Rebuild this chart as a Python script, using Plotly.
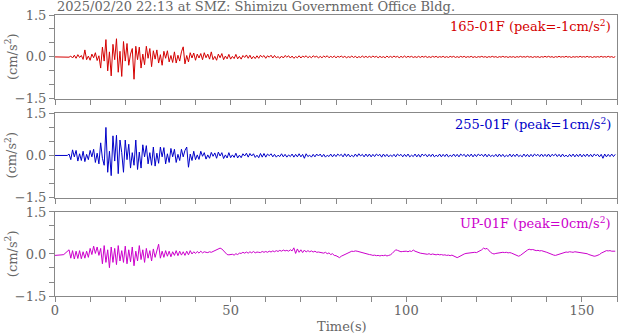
import plotly.graph_objects as go

dt = 0.5
title_text = "2025/02/20 22:13 at SMZ: Shimizu Government Office Bldg."
channel_labels = ["165-01F (peak=-1cm/s<sup>2</sup>)",
                  "255-01F (peak=1cm/s<sup>2</sup>)",
                  "UP-01F (peak=0cm/s<sup>2</sup>)"]
y_ticks = [-1.5, 0.0, 1.5]
x_ticks = [0, 50, 100, 150]

ch165 = [
    0.00,0.00,0.00,0.00,0.00,0.00,0.00,0.01,-0.01,0.03,-0.04,0.06,-0.05,0.08,-0.02,0.05,-0.09,0.25,-0.10,0.03,
    -0.12,0.10,-0.03,0.15,-0.13,0.04,-0.40,0.35,-0.15,0.62,-0.50,0.18,-0.68,0.45,-0.10,0.65,-0.55,0.20,-0.70,0.55,
    -0.15,0.48,-0.30,0.10,0.30,-0.80,0.38,-0.10,0.35,-0.40,0.10,-0.28,0.38,-0.05,0.30,-0.35,0.22,-0.08,0.25,-0.22,
    0.08,-0.30,0.20,-0.05,0.22,-0.18,0.05,-0.20,0.18,-0.22,0.06,-0.15,0.18,0.36,-0.25,0.05,-0.18,0.15,-0.04,0.14,
    -0.12,0.10,-0.04,0.12,-0.10,0.15,-0.03,0.10,-0.08,0.18,-0.10,0.02,-0.12,0.10,-0.03,0.12,-0.10,0.03,-0.07,0.09,
    -0.08,0.02,-0.06,0.09,-0.07,0.02,-0.08,0.05,-0.02,0.07,-0.05,0.06,-0.07,0.02,-0.06,0.04,-0.05,0.06,-0.01,0.05,
    -0.05,0.04,-0.01,0.06,-0.04,0.05,-0.03,0.01,-0.05,0.03,-0.04,0.05,-0.01,0.04,-0.04,0.03,-0.05,0.01,-0.03,0.04,
    -0.04,0.03,-0.01,0.04,-0.03,0.02,-0.03,0.04,-0.01,0.03,-0.04,0.02,-0.03,0.03,-0.01,0.04,-0.03,0.02,-0.02,0.03,
    -0.03,0.02,-0.01,0.03,-0.02,0.02,-0.03,0.01,-0.02,0.03,-0.02,0.02,-0.03,0.01,-0.02,0.03,-0.02,0.02,-0.02,0.02,
    -0.02,0.03,-0.01,0.02,-0.03,0.02,-0.02,0.01,-0.03,0.03,-0.02,0.02,-0.02,0.03,-0.01,0.02,-0.03,0.02,-0.02,0.03,
    -0.02,0.02,-0.01,0.02,-0.02,0.01,-0.02,0.02,-0.02,0.02,-0.01,0.02,-0.02,0.01,-0.02,0.02,-0.01,0.02,-0.02,0.01,
    -0.01,0.02,-0.02,0.01,-0.02,0.02,-0.01,0.02,-0.02,0.01,-0.02,0.02,-0.01,0.02,-0.02,0.01,-0.01,0.02,-0.02,0.01,
    -0.02,0.01,-0.01,0.02,-0.01,0.01,-0.02,0.01,-0.01,0.02,-0.01,0.01,-0.02,0.01,-0.01,0.02,-0.01,0.01,-0.02,0.01,
    -0.01,0.01,-0.02,0.01,-0.01,0.02,-0.01,0.01,-0.01,0.02,-0.01,0.01,-0.02,0.01,-0.01,0.01,-0.02,0.01,-0.01,0.02,
    -0.01,0.02,-0.01,0.01,-0.02,0.01,-0.01,0.02,-0.01,0.01,-0.01,0.02,-0.01,0.01,-0.02,0.01,-0.01,0.01,-0.01,0.02,
    -0.01,0.01,-0.01,0.02,-0.01,0.01,-0.02,0.01,-0.01,0.01,-0.01,0.02,-0.01,0.01,-0.01,0.02,-0.01,0.01,-0.02,0.01,
]

ch255 = [
    0.00,0.00,0.00,0.00,0.00,0.00,0.00,0.00,0.05,-0.15,0.20,-0.05,0.18,-0.20,0.06,-0.18,0.15,-0.22,0.04,-0.15,
    0.18,-0.05,0.22,-0.25,0.08,-0.30,0.45,-0.10,-0.35,1.00,-0.60,0.15,-0.72,0.70,-0.20,0.72,-0.65,0.55,0.10,-0.60,
    0.55,-0.15,0.40,-0.45,0.10,-0.35,0.55,-0.50,0.12,-0.45,0.38,-0.05,0.35,-0.30,0.10,-0.35,0.30,-0.38,0.08,-0.28,
    0.30,-0.05,0.28,-0.30,0.06,-0.25,0.25,-0.05,0.22,-0.25,0.04,-0.18,0.22,-0.05,0.18,0.30,-0.42,0.05,-0.18,0.15,
    -0.15,0.02,-0.14,0.15,-0.03,0.10,-0.13,0.02,-0.10,0.11,-0.03,0.09,-0.10,0.12,-0.02,0.10,-0.11,0.02,-0.09,0.10,
    -0.08,0.02,-0.07,0.08,-0.09,0.01,-0.08,0.06,-0.02,0.08,-0.06,0.07,-0.02,0.06,-0.07,0.01,-0.08,0.07,-0.06,0.07,
    -0.06,0.05,-0.01,0.06,-0.05,0.04,-0.06,0.01,-0.04,0.06,-0.05,0.04,-0.06,0.02,-0.04,0.05,-0.06,0.04,-0.05,0.06,
    -0.05,0.04,-0.10,0.06,-0.04,0.01,-0.06,0.04,-0.05,0.05,-0.02,0.05,-0.05,0.04,-0.06,0.01,-0.04,0.05,-0.05,0.04,
    -0.04,0.05,-0.01,0.04,-0.05,0.06,-0.04,0.05,-0.05,0.01,-0.05,0.05,-0.04,0.06,-0.02,0.04,-0.05,0.05,-0.04,0.05,
    -0.05,0.04,-0.04,0.05,-0.01,0.04,-0.06,0.05,-0.04,0.04,-0.05,0.02,-0.04,0.04,-0.05,0.05,-0.01,0.04,-0.05,0.04,
    -0.04,0.05,-0.05,0.01,-0.04,0.05,-0.05,0.04,-0.06,0.05,-0.01,0.04,-0.05,0.04,-0.04,0.05,-0.05,0.01,-0.04,0.05,
    -0.05,0.04,-0.04,0.05,-0.05,0.01,-0.04,0.05,-0.04,0.04,-0.05,0.05,-0.01,0.04,-0.05,0.04,-0.04,0.05,-0.05,0.04,
    -0.04,0.05,-0.01,0.04,-0.04,0.05,-0.05,0.04,-0.04,0.01,-0.04,0.04,-0.05,0.05,-0.04,0.04,-0.05,0.01,-0.04,0.05,
    -0.05,0.04,-0.04,0.05,-0.04,0.01,-0.05,0.05,-0.04,0.04,-0.05,0.04,-0.04,0.05,-0.01,0.04,-0.04,0.05,-0.04,0.04,
    -0.04,0.05,-0.05,0.04,-0.01,0.05,-0.04,0.04,-0.05,0.05,-0.04,0.01,-0.05,0.04,-0.04,0.05,-0.05,0.04,-0.04,0.05,
    -0.05,0.04,-0.04,0.05,-0.04,0.04,-0.05,0.05,-0.01,0.04,-0.05,0.04,-0.10,0.05,-0.05,0.04,-0.04,0.05,-0.04,0.04,
]

chUP = [
    -0.05,-0.05,-0.04,-0.04,-0.03,-0.02,0.03,0.07,0.15,-0.15,0.12,-0.18,0.10,-0.16,0.12,-0.17,0.08,-0.15,0.10,-0.12,
    0.20,-0.02,0.28,0.02,0.25,-0.05,0.20,-0.35,0.30,-0.30,0.15,-0.49,0.25,-0.30,0.20,-0.38,0.30,-0.25,0.12,-0.30,
    0.28,-0.35,0.15,-0.28,0.25,-0.42,0.10,-0.25,0.30,-0.20,0.15,-0.30,0.20,-0.15,0.12,-0.25,0.18,-0.12,0.10,0.35,
    -0.15,0.10,-0.12,0.12,-0.08,0.10,-0.10,0.08,-0.05,0.12,-0.06,0.10,-0.04,0.08,-0.05,0.10,-0.03,0.12,0.00,0.08,
    0.02,0.09,0.03,0.10,0.04,0.08,0.06,0.05,0.08,0.06,0.09,0.12,0.15,0.18,0.21,0.18,0.10,0.02,-0.02,-0.03,
    -0.03,-0.01,-0.04,0.01,-0.02,0.03,0.02,0.06,0.03,0.07,0.03,0.08,0.04,0.09,0.04,0.07,0.06,0.05,0.09,0.06,
    0.09,0.06,0.10,0.07,0.11,0.08,0.12,0.09,0.13,0.10,0.14,0.11,0.13,0.10,0.15,0.11,0.22,0.02,0.18,0.06,
    0.15,0.05,0.14,0.07,0.12,0.08,0.11,0.07,0.10,0.06,0.07,0.06,0.06,0.03,0.06,0.01,0.04,-0.02,0.01,-0.05,
    -0.06,-0.10,-0.13,-0.08,-0.05,-0.02,0.02,0.05,0.08,0.10,0.09,0.11,0.10,0.08,0.06,0.04,0.02,0.01,0.00,-0.02,
    -0.03,-0.05,-0.04,-0.06,-0.05,-0.07,-0.05,-0.06,-0.04,-0.07,-0.05,-0.03,0.02,0.08,0.15,0.13,0.10,0.08,0.09,0.10,
    0.10,0.08,0.11,0.09,0.14,0.10,0.07,0.05,0.03,0.02,0.01,0.00,-0.01,0.01,-0.02,0.00,-0.02,-0.03,-0.01,-0.03,
    -0.02,-0.04,-0.03,-0.05,-0.04,-0.06,-0.04,-0.07,-0.09,-0.13,-0.10,-0.06,-0.02,0.00,0.02,0.03,0.05,0.04,0.05,0.06,
    0.05,0.08,0.10,0.15,0.21,0.18,0.20,0.12,0.06,0.02,0.00,0.02,0.03,0.05,0.04,0.06,0.05,0.06,0.04,0.05,
    0.03,0.00,-0.03,-0.06,-0.08,-0.05,0.00,0.06,0.10,0.14,0.17,0.15,0.16,0.13,0.12,0.13,0.11,0.12,0.09,0.08,
    0.06,0.03,0.01,-0.02,-0.04,-0.05,-0.03,-0.01,0.02,0.04,0.05,0.07,0.06,0.08,0.07,0.06,0.08,0.07,0.06,0.07,
    0.06,0.05,0.03,0.01,-0.02,-0.04,-0.06,-0.08,-0.07,-0.05,-0.02,0.03,0.07,0.10,0.12,0.11,0.12,0.10,0.11,0.10,
]

series = [ch165, ch255, chUP]
colors = ["#d40000", "#0000c8", "#cc00cc"]

# ---------------- figure ----------------
FONT = "DejaVu Serif"
FS = 13
GRAY = "#666666"
AXIS = "#888888"

W, H = 618, 334
ML, MR, MT, MB = 55, 1, 15, 38
domains = [[0.7018, 1.0], [0.3505, 0.6498], [0.0, 0.299]]

fig = go.Figure()
for i, vals in enumerate(series):
    t = [k * dt for k in range(len(vals))]
    fig.add_trace(go.Scatter(
        x=t, y=vals, mode="lines",
        line=dict(color=colors[i], width=1),
        xaxis="x" if i == 0 else f"x{i+1}",
        yaxis="y" if i == 0 else f"y{i+1}",
        showlegend=False, hoverinfo="skip",
    ))

layout = dict(
    width=W, height=H,
    margin=dict(l=ML, r=MR, t=MT, b=MB, pad=0),
    paper_bgcolor="white", plot_bgcolor="white",
    font=dict(family=FONT, size=FS, color=GRAY),
    showlegend=False,
)
for i in range(3):
    xs = "xaxis" if i == 0 else f"xaxis{i+1}"
    ys = "yaxis" if i == 0 else f"yaxis{i+1}"
    yref = "y" if i == 0 else f"y{i+1}"
    xref = "x" if i == 0 else f"x{i+1}"
    layout[xs] = dict(
        domain=[0, 1], anchor=yref, range=[0, 160],
        tickmode="array", tickvals=x_ticks,
        showticklabels=(i == 2),
        ticks="outside", ticklen=5, tickwidth=1, tickcolor=AXIS,
        minor=dict(dtick=10, tick0=0, ticks="outside", ticklen=5, tickwidth=1, tickcolor=AXIS, showgrid=False),
        showline=True, linecolor=AXIS, linewidth=1, mirror=True,
        showgrid=False, zeroline=False,
        ticklabelstandoff=-3,
        tickfont=dict(family=FONT, size=FS, color=GRAY),
        matches=None if i == 0 else "x",
    )
    layout[ys] = dict(
        domain=domains[i], anchor=xref, range=[-1.5, 1.5],
        tickmode="array", tickvals=y_ticks, tickformat=".1f",
        ticks="outside", ticklen=5, tickwidth=1, tickcolor=AXIS,
        minor=dict(dtick=0.5, tick0=0, ticks="outside", ticklen=5, tickwidth=1, tickcolor=AXIS, showgrid=False),
        showline=True, linecolor=AXIS, linewidth=1, mirror=True,
        showgrid=False, zeroline=False,
        tickfont=dict(family=FONT, size=FS, color=GRAY),
    )
fig.update_layout(**layout)

annotations = []
annotations.append(dict(text=title_text, xref="paper", yref="paper", x=0, y=1,
                        xanchor="left", yanchor="bottom", yshift=-1, showarrow=False,
                        font=dict(family=FONT, size=FS, color=GRAY)))
for i in range(3):
    top = domains[i][1]
    mid = (domains[i][0] + domains[i][1]) / 2
    annotations.append(dict(text=channel_labels[i], xref="paper", yref="paper",
                            x=0.993, y=top, xanchor="right", yanchor="top", yshift=-1,
                            showarrow=False, font=dict(family=FONT, size=FS, color=colors[i])))
    annotations.append(dict(text="(cm/s<sup>2</sup>)", xref="paper", yref="paper",
                            x=-0.078, y=mid, xanchor="center", yanchor="middle",
                            textangle=-90, showarrow=False,
                            font=dict(family=FONT, size=FS, color=GRAY)))
annotations.append(dict(text="Time(s)", xref="paper", yref="paper", x=0.51, y=0,
                        xanchor="center", yanchor="top", yshift=-21, showarrow=False,
                        font=dict(family=FONT, size=FS, color=GRAY)))
fig.update_layout(annotations=annotations)

fig.write_html("out.html")
